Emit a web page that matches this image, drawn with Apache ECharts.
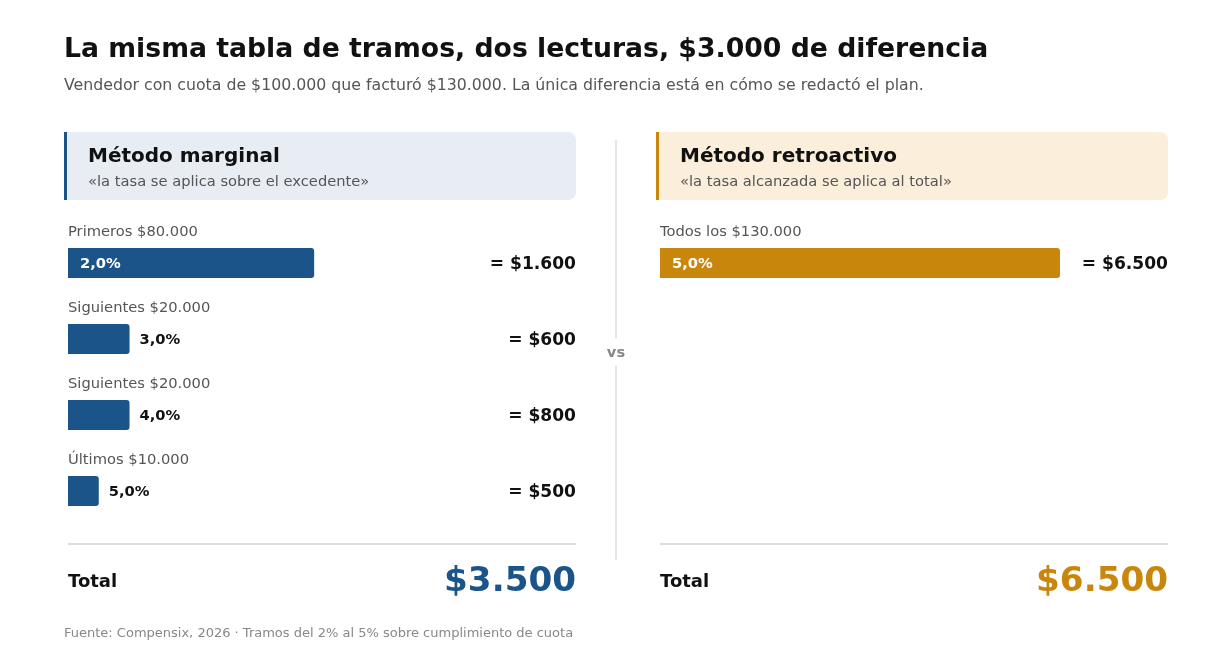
<!DOCTYPE html>
<html>
<head>
<meta charset="utf-8">
<script src="https://cdn.jsdelivr.net/npm/echarts@6/dist/echarts.min.js"></script>
<style>
html, body { margin: 0; padding: 0; background: #fff; }
#chart { width: 1232px; height: 660px; }
</style>
</head>
<body>
<div id="chart"></div>
<script>
// datos del plan
var tramosMarginal = [80000, 20000, 20000, 10000];
var tasasMarginal = [2, 3, 4, 5];
var etiquetasMarginal = ['Primeros $80.000', 'Siguientes $20.000', 'Siguientes $20.000', 'Últimos $10.000'];
var tramosRetro = [130000];
var tasasRetro = [5];
var etiquetasRetro = ['Todos los $130.000'];

var AZUL = '#1a5489';
var OCRE = '#c8860d';
var FONT = "'DejaVu Sans', sans-serif";

function miles(n) {
	return '$' + String(Math.round(n)).replace(/\B(?=(\d{3})+(?!\d))/g, '.');
}
function pct(t) {
	return t.toFixed(1).replace('.', ',') + '%';
}

var pagosMarginal = tramosMarginal.map(function (v, i) { return v * tasasMarginal[i] / 100; });
var pagosRetro = tramosRetro.map(function (v, i) { return v * tasasRetro[i] / 100; });
var totalMarginal = pagosMarginal.reduce(function (a, b) { return a + b; }, 0);
var totalRetro = pagosRetro.reduce(function (a, b) { return a + b; }, 0);

function barData(tramos, tasas) {
	return tramos.map(function (v, i) {
		var grande = v >= 50000;
		return {
			value: v,
			label: {
				show: true,
				formatter: pct(tasas[i]),
				position: grande ? 'insideLeft' : 'right',
				distance: grande ? 12 : 10,
				offset: [0, 1],
				color: grande ? '#fff' : '#111',
				fontFamily: FONT,
				fontWeight: 'bold',
				fontSize: 14.7
			}
		};
	});
}

var myChart = echarts.init(document.getElementById('chart'));

var option = {
	animation: false,
	textStyle: { fontFamily: FONT },
	grid: [
		{ left: 68, top: 225, width: 400, height: 304 },
		{ left: 660, top: 225, width: 400, height: 76 }
	],
	xAxis: [
		{ gridIndex: 0, type: 'value', min: 0, max: 130000, show: false },
		{ gridIndex: 1, type: 'value', min: 0, max: 130000, show: false }
	],
	yAxis: [
		{ gridIndex: 0, type: 'category', inverse: true, data: etiquetasMarginal, show: false },
		{ gridIndex: 1, type: 'category', inverse: true, data: etiquetasRetro, show: false }
	],
	series: [
		{
			type: 'bar', xAxisIndex: 0, yAxisIndex: 0, barWidth: 30,
			itemStyle: { color: AZUL, borderRadius: [0, 3, 3, 0] },
			data: barData(tramosMarginal, tasasMarginal)
		},
		{
			type: 'bar', xAxisIndex: 1, yAxisIndex: 1, barWidth: 30,
			itemStyle: { color: OCRE, borderRadius: [0, 3, 3, 0] },
			data: barData(tramosRetro, tasasRetro)
		}
	]
};
myChart.setOption(option);

function txt(x, y, s, size, weight, color, align) {
	return {
		type: 'text', x: x, y: y,
		style: {
			text: s, fontFamily: FONT, fontSize: size, fontWeight: weight,
			fill: color, align: align || 'left', verticalAlign: 'middle'
		}
	};
}

// textos y adornos
var g = [];
g.push(txt(64, 50, 'La misma tabla de tramos, dos lecturas, $3.000 de diferencia', 26.7, 'bold', '#111'));
g.push(txt(64, 86, 'Vendedor con cuota de $100.000 que facturó $130.000. La única diferencia está en cómo se redactó el plan.', 15.75, 'normal', '#555'));

function panel(x0, x1, color, fondo, titulo, sub) {
	g.push({ type: 'rect', shape: { x: x0, y: 132, width: x1 - x0, height: 68, r: [0, 8, 8, 0] }, style: { fill: fondo } });
	g.push({ type: 'rect', shape: { x: x0, y: 132, width: 3, height: 68 }, style: { fill: color } });
	g.push(txt(x0 + 24, 157, titulo, 20, 'bold', '#111'));
	g.push(txt(x0 + 24, 182, sub, 14.7, 'normal', '#555'));
	g.push({ type: 'line', shape: { x1: x0 + 4, y1: 544, x2: x1, y2: 544 }, style: { stroke: '#dddddd', lineWidth: 2 } });
	g.push(txt(x0 + 4, 582, 'Total', 18, 'bold', '#111'));
}
panel(64, 576, AZUL, '#e8ecf3', 'Método marginal', '«la tasa se aplica sobre el excedente»');
panel(656, 1168, OCRE, '#fbeedb', 'Método retroactivo', '«la tasa alcanzada se aplica al total»');

g.push(txt(576, 582, miles(totalMarginal), 34.2, 'bold', AZUL, 'right'));
g.push(txt(1168, 582, miles(totalRetro), 34.2, 'bold', OCRE, 'right'));

// filas
function filas(idx, etiquetas, pagos, xIzq, xDer) {
	etiquetas.forEach(function (lab, i) {
		var y = myChart.convertToPixel({ yAxisIndex: idx }, i);
		g.push(txt(xIzq, y - 31, lab, 14.7, 'normal', '#555'));
		g.push(txt(xDer, y + 2, '= ' + miles(pagos[i]), 17.1, 'bold', '#111', 'right'));
	});
}
filas(0, etiquetasMarginal, pagosMarginal, 68, 576);
filas(1, etiquetasRetro, pagosRetro, 660, 1168);

// separador vs
g.push({ type: 'line', shape: { x1: 616, y1: 140, x2: 616, y2: 338 }, style: { stroke: '#e6e6e6', lineWidth: 2 } });
g.push({ type: 'line', shape: { x1: 616, y1: 366, x2: 616, y2: 560 }, style: { stroke: '#e6e6e6', lineWidth: 2 } });
g.push(txt(616, 353, 'vs', 14.7, 'bold', '#888', 'center'));

g.push(txt(64, 634, 'Fuente: Compensix, 2026 · Tramos del 2% al 5% sobre cumplimiento de cuota', 13, 'normal', '#888'));

myChart.setOption({ graphic: g });
</script>
</body>
</html>
